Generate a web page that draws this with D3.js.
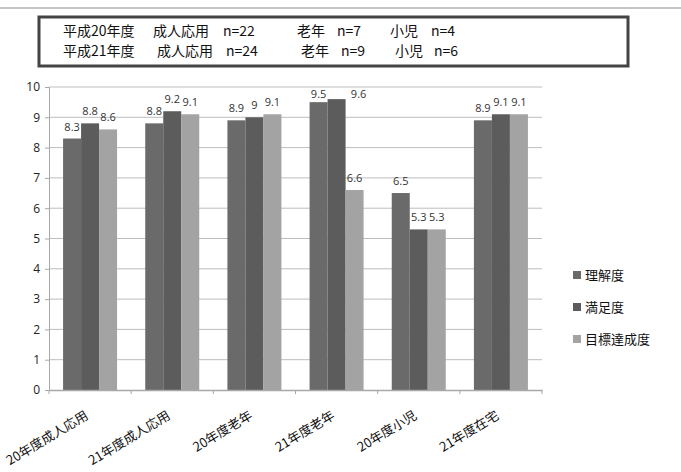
<!DOCTYPE html>
<html>
<head>
<meta charset="utf-8">
<script src="https://cdnjs.cloudflare.com/ajax/libs/d3/7.8.5/d3.min.js"></script>
<style>
  body { margin: 0; background: #fff; }
  text { font-family: "Noto Sans CJK JP", "DejaVu Sans", sans-serif; }
</style>
</head>
<body>
<div id="chart"></div>
<script>
// categories and series
var categories = ["20年度成人応用", "21年度成人応用", "20年度老年", "21年度老年", "20年度小児", "21年度在宅"];
var seriesNames = ["理解度", "満足度", "目標達成度"];
var rikai = [8.3, 8.8, 8.9, 9.5, 6.5, 8.9];
var manzoku = [8.8, 9.2, 9, 9.6, 5.3, 9.1];
var mokuhyo = [8.6, 9.1, 9.1, 6.6, 5.3, 9.1];
var yTicks = [0, 1, 2, 3, 4, 5, 6, 7, 8, 9, 10];
// header box lines
var header = [
  [["平成20年度", 63], ["成人応用", 153], ["n=22", 223], ["老年", 297], ["n=7", 337], ["小児", 390], ["n=4", 431]],
  [["平成21年度", 63], ["成人応用", 157], ["n=24", 226], ["老年", 301], ["n=9", 341], ["小児", 395], ["n=6", 434]]
];

var colors = ["#6a6a6a", "#5c5c5c", "#a3a3a3"];
var series = [rikai, manzoku, mokuhyo];

var W = 681, H = 472;
var svg = d3.select("#chart").append("svg").attr("width", W).attr("height", H);

// top rule
svg.append("line").attr("x1", 0).attr("x2", W).attr("y1", 8).attr("y2", 8)
  .attr("stroke", "#c4c4c4").attr("stroke-width", 2);

// header box
svg.append("rect").attr("x", 39).attr("y", 17).attr("width", 589).attr("height", 49)
  .attr("fill", "#fff").attr("stroke", "#444").attr("stroke-width", 3);
header.forEach(function(row, i) {
  row.forEach(function(d) {
    svg.append("text").attr("x", d[1]).attr("y", 36 + i * 20)
      .attr("font-size", 14).attr("fill", "#111").text(d[0]);
  });
});

var pLeft = 49, pRight = 542, pTop = 87, pBottom = 390;
var x = d3.scaleBand().domain(categories).range([pLeft, pRight]);
var y = d3.scaleLinear().domain([0, 10]).range([pBottom, pTop]);
var groupW = 54;
var xs = d3.scaleBand().domain(d3.range(3)).range([0, groupW]);

// gridlines
svg.append("g").selectAll("line").data(yTicks.slice(1)).join("line")
  .attr("x1", pLeft).attr("x2", pRight)
  .attr("y1", function(d) { return y(d); }).attr("y2", function(d) { return y(d); })
  .attr("stroke", "#bdbdbd").attr("stroke-width", 1);

// y axis
var yAxis = svg.append("g").attr("transform", "translate(" + pLeft + ",0)")
  .call(d3.axisLeft(y).tickValues(yTicks).tickSize(4).tickPadding(5));
yAxis.select(".domain").attr("stroke", "#a8a8a8");
yAxis.selectAll(".tick line").attr("stroke", "#a8a8a8");
yAxis.selectAll("text").attr("font-size", 12).attr("fill", "#222")
  .style("font-family", "'Open Sans', 'DejaVu Sans', sans-serif");

function barX(i, s) {
  return x(categories[i]) + (x.bandwidth() - groupW) / 2 + xs(s);
}
// label baseline kept inside the plot area, like the spreadsheet does
function labelY(d) {
  return Math.max(y(d) - 8, pTop + 11);
}

// bars
series.forEach(function(vals, s) {
  svg.append("g").selectAll("rect").data(vals).join("rect")
    .attr("x", function(d, i) { return barX(i, s); })
    .attr("y", function(d) { return y(d); })
    .attr("width", xs.bandwidth())
    .attr("height", function(d) { return pBottom - y(d); })
    .attr("fill", colors[s]);
  svg.append("g").selectAll("text").data(vals).join("text")
    .attr("x", function(d, i) {
      var cx = barX(i, s) + xs.bandwidth() / 2;
      // nudge right when the neighbour label got squeezed to the same line
      if (s > 0 && labelY(d) === pTop + 11 && labelY(series[s - 1][i]) === pTop + 11) cx += 22;
      return cx;
    })
    .attr("y", labelY)
    .attr("text-anchor", "middle").attr("font-size", 11).attr("fill", "#333")
    .style("font-family", "'Open Sans', 'DejaVu Sans', sans-serif")
    .text(function(d) { return d; });
});

// x axis
var xAxis = svg.append("g").attr("transform", "translate(0," + pBottom + ")")
  .call(d3.axisBottom(x).tickSize(0).tickFormat(""));
xAxis.select(".domain").attr("stroke", "#a8a8a8").attr("stroke-width", 1.5);
svg.append("g").selectAll("line").data(d3.range(categories.length + 1)).join("line")
  .attr("x1", function(i) { return pLeft + i * x.step(); })
  .attr("x2", function(i) { return pLeft + i * x.step(); })
  .attr("y1", pBottom).attr("y2", pBottom + 4)
  .attr("stroke", "#a8a8a8");

svg.append("g").selectAll("text").data(categories).join("text")
  .attr("transform", function(d) {
    return "translate(" + (x(d) + x.bandwidth() / 2 - 1) + "," + (pBottom + 28) + ") rotate(-31)";
  })
  .attr("text-anchor", "end").attr("font-size", 13).attr("fill", "#111")
  .text(function(d) { return d; });

// legend
var leg = svg.append("g").selectAll("g").data(seriesNames).join("g")
  .attr("transform", function(d, i) { return "translate(573," + (275 + i * 32) + ")"; });
leg.append("rect").attr("x", 0).attr("y", -4).attr("width", 8).attr("height", 8)
  .attr("fill", function(d, i) { return colors[i]; });
leg.append("text").attr("x", 12).attr("y", 5).attr("font-size", 13).attr("fill", "#111")
  .text(function(d) { return d; });
</script>
</body>
</html>
